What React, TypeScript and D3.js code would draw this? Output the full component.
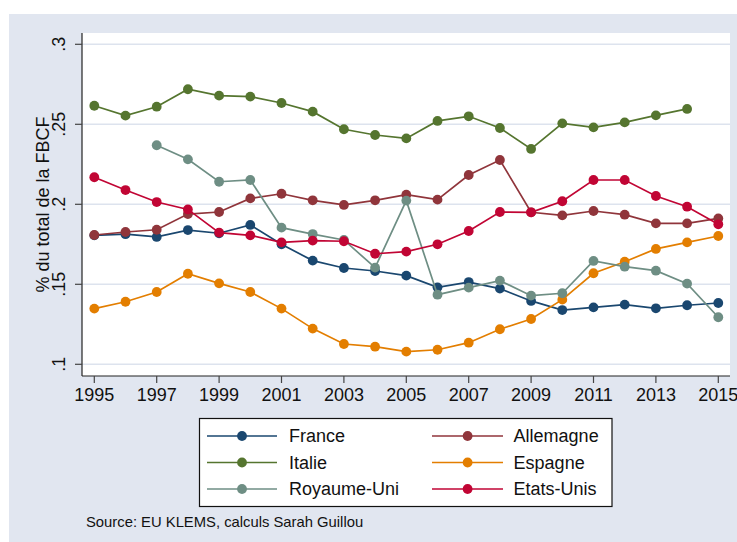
import React from 'react';
import * as d3 from 'd3';

const years = [1995, 1996, 1997, 1998, 1999, 2000, 2001, 2002, 2003, 2004, 2005, 2006, 2007, 2008, 2009, 2010, 2011, 2012, 2013, 2014, 2015];

const france = [0.1806, 0.1813, 0.1796, 0.1839, 0.1819, 0.1871, 0.175, 0.1648, 0.1602, 0.1583, 0.1554, 0.1481, 0.1514, 0.1473, 0.1396, 0.1339, 0.1356, 0.1373, 0.135, 0.1369, 0.1383];
const allemagne = [0.1808, 0.1827, 0.1841, 0.1939, 0.1952, 0.2037, 0.2066, 0.2025, 0.1996, 0.2025, 0.206, 0.2029, 0.2183, 0.2277, 0.195, 0.1931, 0.1958, 0.1935, 0.1881, 0.1881, 0.1912];
const italie = [0.2616, 0.2554, 0.261, 0.2719, 0.2679, 0.2673, 0.2633, 0.2579, 0.2469, 0.2433, 0.2412, 0.2521, 0.255, 0.2477, 0.2346, 0.2506, 0.2481, 0.2512, 0.2556, 0.2596, null];
const espagne = [0.1348, 0.1391, 0.1452, 0.1566, 0.1506, 0.1452, 0.1348, 0.1223, 0.1127, 0.111, 0.1079, 0.1091, 0.1135, 0.1219, 0.1283, 0.1404, 0.1569, 0.1641, 0.1721, 0.1762, 0.1802];
const royaumeUni = [null, null, 0.2369, 0.2281, 0.2141, 0.2152, 0.1854, 0.1814, 0.1777, 0.1604, 0.2023, 0.1435, 0.1479, 0.1523, 0.1429, 0.1444, 0.1646, 0.161, 0.1585, 0.1504, 0.1294];
const etatsUnis = [0.2169, 0.2089, 0.2014, 0.1968, 0.1823, 0.1806, 0.1762, 0.1773, 0.1769, 0.1691, 0.1704, 0.175, 0.1833, 0.1952, 0.195, 0.2019, 0.2152, 0.2152, 0.2052, 0.1985, 0.1875];

const seriesNames = ['France', 'Allemagne', 'Italie', 'Espagne', 'Royaume-Uni', 'Etats-Unis'];
const seriesValues = [france, allemagne, italie, espagne, royaumeUni, etatsUnis];
const seriesColors = ['#1a476f', '#90353b', '#55752f', '#e37e00', '#6e8e84', '#c10534'];

const yTicks = [0.1, 0.15, 0.2, 0.25, 0.3];
const yTickLabels = ['.1', '.15', '.2', '.25', '.3'];
const xTicks = [1995, 1997, 1999, 2001, 2003, 2005, 2007, 2009, 2011, 2013, 2015];

const yTitle = '% du total de la FBCF';
const sourceNote = 'Source: EU KLEMS, calculs Sarah Guillou';

const FONT = 'Arial, "Liberation Sans", Helvetica, sans-serif';
const BG = '#e1e6f0';
const GRID = '#dde3ee';

export default function App() {
  const plotL = 82, plotR = 730, plotT = 33, plotB = 376;
  const x = d3.scaleLinear().domain([1995, 2015]).range([94.3, 718.3]);
  const y = d3.scaleLinear().domain([0.1, 0.3]).range([364.3, 44.3]);

  const line = d3
    .line<number | null>()
    .defined((d) => d != null)
    .x((_, i) => x(years[i]))
    .y((d) => y(d as number));

  // legend layout
  const legL = 199.5, legT = 418.5, legW = 412.5, legH = 88;
  const rowY = [436, 462.5, 489];
  const colX = [{ l1: 207, l2: 277, m: 242, t: 289 }, { l1: 432, l2: 503, m: 467.6, t: 513.6 }];

  return (
    <svg width={737} height={542} style={{ position: 'absolute', left: 0, top: 0 }} xmlns="http://www.w3.org/2000/svg">
      <rect x={0} y={0} width={737} height={542} fill="#ffffff" />
      <rect x={9} y={14} width={728} height={528} fill={BG} />
      <rect x={plotL} y={plotT} width={plotR - plotL} height={plotB - plotT} fill="#ffffff" />

      {/* gridlines */}
      {yTicks.map((t) => (
        <line key={'g' + t} x1={plotL} x2={plotR} y1={y(t)} y2={y(t)} stroke={GRID} strokeWidth={1.6} />
      ))}

      {/* axes */}
      <line x1={plotL} x2={plotL} y1={plotT} y2={plotB} stroke="#222" strokeWidth={1.2} />
      <line x1={plotL} x2={plotR} y1={plotB} y2={plotB} stroke="#222" strokeWidth={1.2} />

      {yTicks.map((t, i) => (
        <g key={'yt' + t}>
          <line x1={plotL - 7} x2={plotL} y1={y(t)} y2={y(t)} stroke="#444" strokeWidth={1.2} />
          <text
            x={65.5}
            y={y(t)}
            transform={`rotate(-90, 65.5, ${y(t)})`}
            textAnchor="middle"
            fontFamily={FONT}
            fontSize={18}
            fill="#111"
          >
            {yTickLabels[i]}
          </text>
        </g>
      ))}

      {xTicks.map((t) => (
        <g key={'xt' + t}>
          <line x1={x(t)} x2={x(t)} y1={plotB} y2={plotB + 7} stroke="#444" strokeWidth={1.2} />
          <text x={x(t)} y={401} textAnchor="middle" fontFamily={FONT} fontSize={18} fill="#111">
            {t}
          </text>
        </g>
      ))}

      <text
        x={48.5}
        y={(plotT + plotB) / 2}
        transform={`rotate(-90, 48.5, ${(plotT + plotB) / 2})`}
        textAnchor="middle"
        fontFamily={FONT}
        fontSize={18}
        fill="#111"
      >
        {yTitle}
      </text>

      {/* series */}
      {seriesValues.map((vals, si) => (
        <g key={seriesNames[si]}>
          <path d={line(vals) || ''} fill="none" stroke={seriesColors[si]} strokeWidth={1.7} />
          {vals.map((v, i) =>
            v == null ? null : (
              <circle key={i} cx={x(years[i])} cy={y(v)} r={4.9} fill={seriesColors[si]} />
            )
          )}
        </g>
      ))}

      {/* legend */}
      <rect x={legL} y={legT} width={legW} height={legH} fill="#ffffff" stroke="#111" strokeWidth={1.2} />
      {seriesNames.map((name, i) => {
        const c = colX[i % 2];
        const ry = rowY[Math.floor(i / 2)];
        return (
          <g key={'leg' + name}>
            <line x1={c.l1} x2={c.l2} y1={ry} y2={ry} stroke={seriesColors[i]} strokeWidth={1.7} />
            <circle cx={c.m} cy={ry} r={4.9} fill={seriesColors[i]} />
            <text x={c.t} y={ry + 6.3} fontFamily={FONT} fontSize={18} fill="#111">
              {name}
            </text>
          </g>
        );
      })}

      <text x={86} y={527} fontFamily={FONT} fontSize={14.8} fill="#111">
        {sourceNote}
      </text>
    </svg>
  );
}
